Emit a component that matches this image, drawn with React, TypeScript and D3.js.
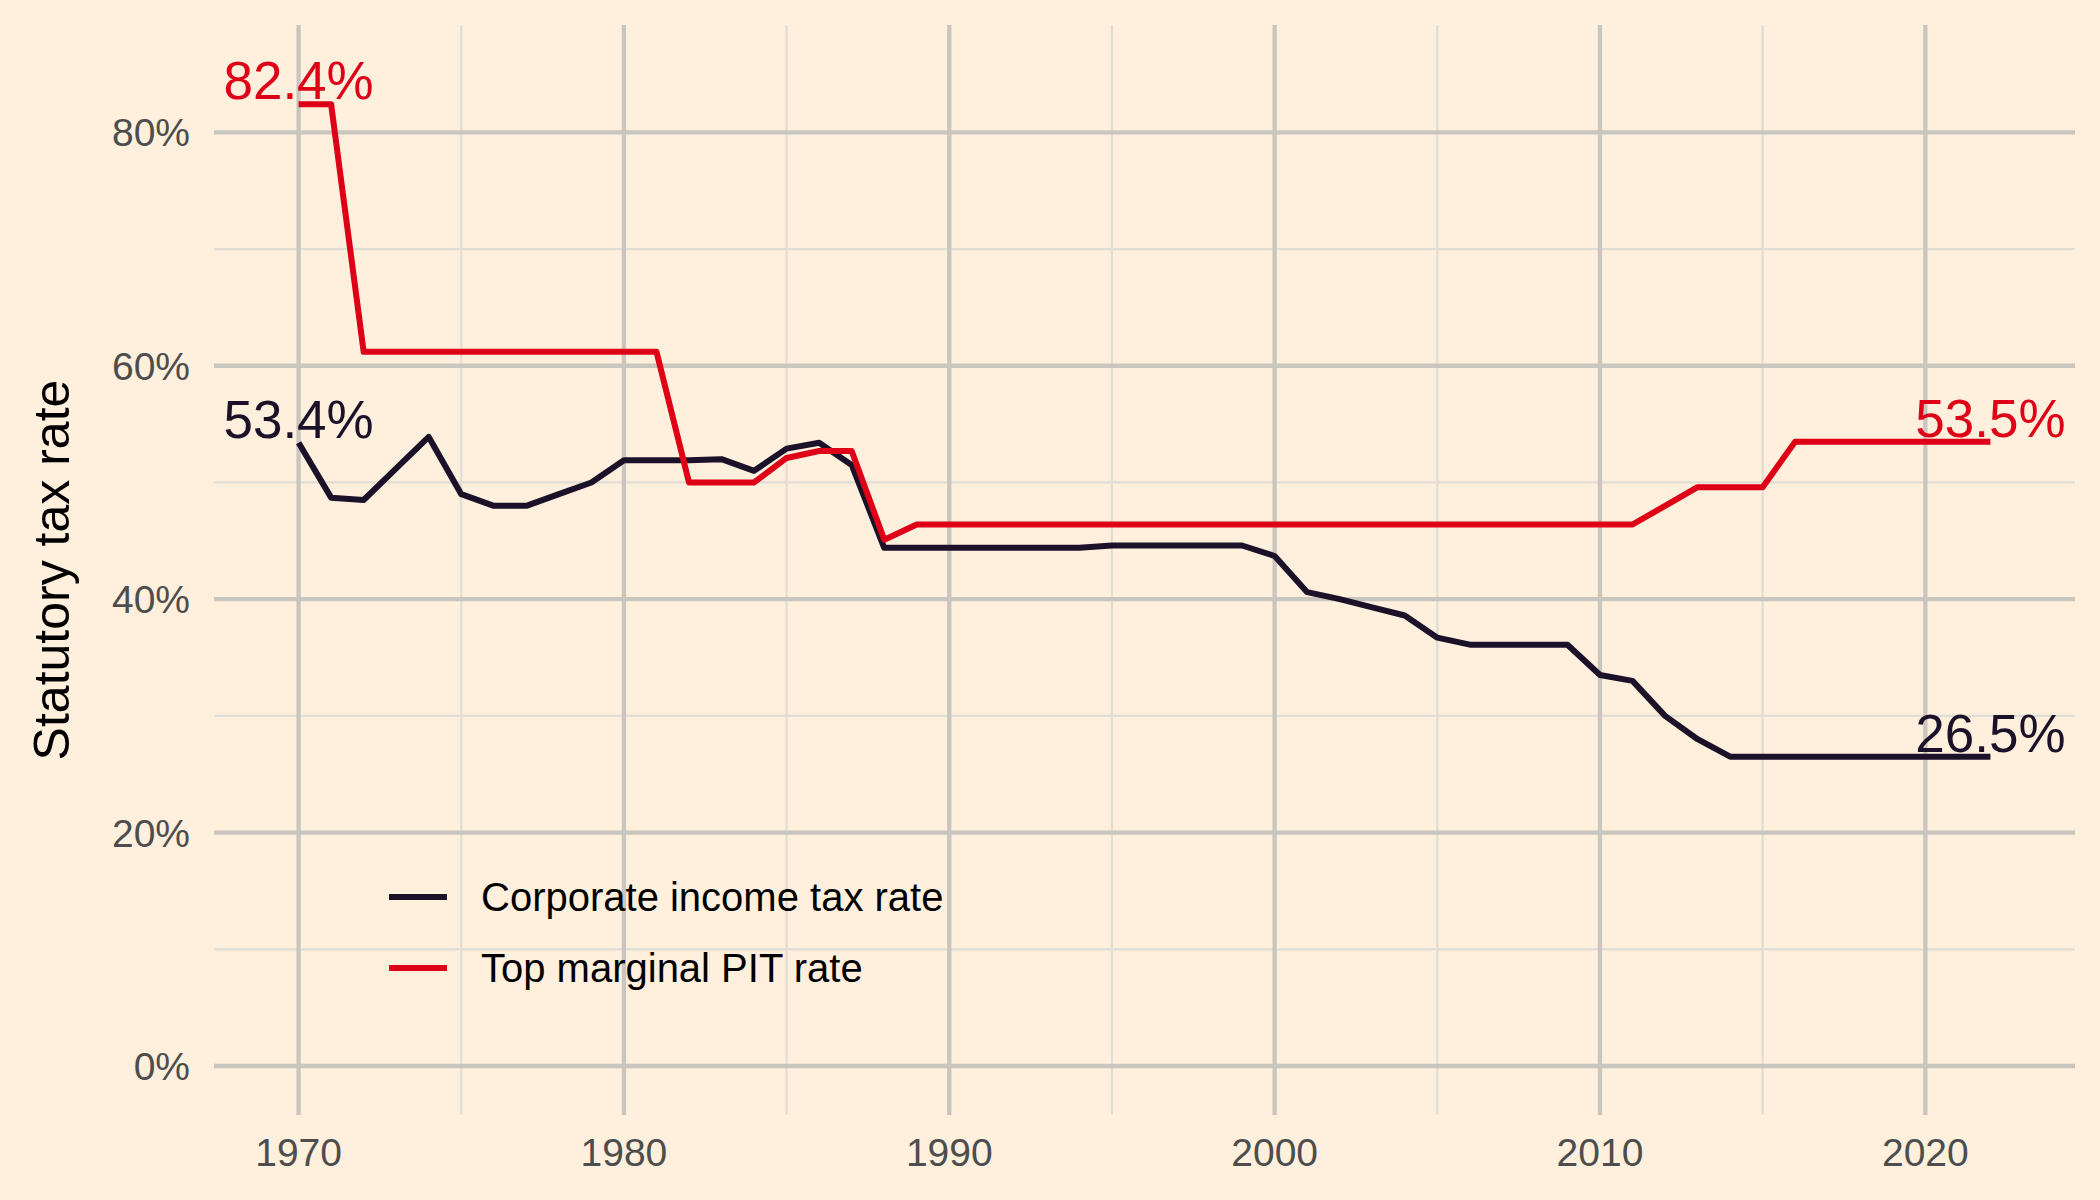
import * as d3 from "d3";
import { useEffect, useRef } from "react";

const years = [
  1970, 1971, 1972, 1973, 1974, 1975, 1976, 1977, 1978, 1979,
  1980, 1981, 1982, 1983, 1984, 1985, 1986, 1987, 1988, 1989,
  1990, 1991, 1992, 1993, 1994, 1995, 1996, 1997, 1998, 1999,
  2000, 2001, 2002, 2003, 2004, 2005, 2006, 2007, 2008, 2009,
  2010, 2011, 2012, 2013, 2014, 2015, 2016, 2017, 2018, 2019,
  2020, 2021, 2022,
];

// corporate income tax rate, %
const citRate = [
  53.4, 48.7, 48.5, 51.2, 53.9, 49.0, 48.0, 48.0, 49.0, 50.0,
  51.9, 51.9, 51.9, 52.0, 51.0, 52.9, 53.4, 51.5, 44.4, 44.4,
  44.4, 44.4, 44.4, 44.4, 44.4, 44.6, 44.6, 44.6, 44.6, 44.6,
  43.7, 40.6, 40.0, 39.3, 38.6, 36.7, 36.1, 36.1, 36.1, 36.1,
  33.5, 33.0, 30.0, 28.0, 26.5, 26.5, 26.5, 26.5, 26.5, 26.5,
  26.5, 26.5, 26.5,
];

// top marginal personal income tax rate, %
const pitRate = [
  82.4, 82.4, 61.2, 61.2, 61.2, 61.2, 61.2, 61.2, 61.2, 61.2,
  61.2, 61.2, 50.0, 50.0, 50.0, 52.1, 52.7, 52.7, 45.1, 46.4,
  46.4, 46.4, 46.4, 46.4, 46.4, 46.4, 46.4, 46.4, 46.4, 46.4,
  46.4, 46.4, 46.4, 46.4, 46.4, 46.4, 46.4, 46.4, 46.4, 46.4,
  46.4, 46.4, 48.0, 49.6, 49.6, 49.6, 53.5, 53.5, 53.5, 53.5,
  53.5, 53.5, 53.5,
];

const seriesNames = ["Corporate income tax rate", "Top marginal PIT rate"];
const seriesColors = ["#1b1229", "#de0016"];

const yTicks = [0, 20, 40, 60, 80];
const yMinor = [10, 30, 50, 70];
const xTicks = [1970, 1980, 1990, 2000, 2010, 2020];
const xMinor = [1975, 1985, 1995, 2005, 2015];

const BG = "#ffefdd";
const GRID_MAJOR = "#c8c6bf";
const GRID_MINOR = "#e0ddd4";
const FONT = "'Liberation Sans', Arial, sans-serif";

function App() {
  const svgRef = useRef<SVGSVGElement>(null);
  const width = 2100;
  const height = 1200;

  useEffect(() => {
    const svg = d3.select(svgRef.current);
    svg.selectAll("*").remove();

    const left = 214, right = 2075, top = 25, bottom = 1115;

    const x = d3.scaleLinear().domain([1967.4, 2024.6]).range([left, right]);
    const y = d3.scaleLinear().domain([-4.2, 89.2]).range([bottom, top]);

    svg.append("rect").attr("width", width).attr("height", height).attr("fill", BG);

    const grid = svg.append("g");
    // minor grid
    grid.selectAll(".ymin").data(yMinor).join("line")
      .attr("x1", left).attr("x2", right)
      .attr("y1", (d) => y(d)).attr("y2", (d) => y(d))
      .attr("stroke", GRID_MINOR).attr("stroke-width", 2.2);
    grid.selectAll(".xmin").data(xMinor).join("line")
      .attr("x1", (d) => x(d)).attr("x2", (d) => x(d))
      .attr("y1", top).attr("y2", bottom)
      .attr("stroke", GRID_MINOR).attr("stroke-width", 2.2);
    // major grid
    grid.selectAll(".ymaj").data(yTicks).join("line")
      .attr("x1", left).attr("x2", right)
      .attr("y1", (d) => y(d)).attr("y2", (d) => y(d))
      .attr("stroke", GRID_MAJOR).attr("stroke-width", 4.3);
    grid.selectAll(".xmaj").data(xTicks).join("line")
      .attr("x1", (d) => x(d)).attr("x2", (d) => x(d))
      .attr("y1", top).attr("y2", bottom)
      .attr("stroke", GRID_MAJOR).attr("stroke-width", 4.3);

    // axis labels
    svg.append("g").selectAll("text").data(yTicks).join("text")
      .attr("x", 190).attr("y", (d) => y(d)).attr("dy", "0.36em")
      .attr("text-anchor", "end")
      .attr("font-family", FONT).attr("font-size", 39).attr("fill", "#4d4d4d")
      .text((d) => d + "%");

    svg.append("g").selectAll("text").data(xTicks).join("text")
      .attr("x", (d) => x(d)).attr("y", 1166)
      .attr("text-anchor", "middle")
      .attr("font-family", FONT).attr("font-size", 39).attr("fill", "#4d4d4d")
      .text((d) => d);

    svg.append("text")
      .attr("transform", "translate(69,570) rotate(-90)")
      .attr("text-anchor", "middle")
      .attr("font-family", FONT).attr("font-size", 50).attr("fill", "#000")
      .text("Statutory tax rate");

    // lines
    const line = d3.line<number>()
      .x((v, i) => x(years[i]))
      .y((v) => y(v));

    const allSeries = [citRate, pitRate];
    allSeries.forEach((vals, k) => {
      svg.append("path")
        .attr("d", line(vals))
        .attr("fill", "none")
        .attr("stroke", seriesColors[k])
        .attr("stroke-width", 6)
        .attr("stroke-linejoin", "round");
    });

    // end labels
    allSeries.forEach((vals, k) => {
      const ends = [0, vals.length - 1];
      svg.append("g").selectAll("text").data(ends).join("text")
        .attr("x", (i) => x(years[i]))
        .attr("y", (i) => y(vals[i]) - 5)
        .attr("text-anchor", "middle")
        .attr("font-family", FONT).attr("font-size", 53)
        .attr("fill", seriesColors[k])
        .text((i) => vals[i].toFixed(1) + "%");
    });

    // legend
    const legend = svg.append("g");
    const rowY = [897, 968];
    seriesNames.forEach((name, k) => {
      legend.append("line")
        .attr("x1", 389).attr("x2", 447)
        .attr("y1", rowY[k]).attr("y2", rowY[k])
        .attr("stroke", seriesColors[k]).attr("stroke-width", 6);
      legend.append("text")
        .attr("x", 481).attr("y", rowY[k]).attr("dy", "0.36em")
        .attr("font-family", FONT).attr("font-size", 40).attr("fill", "#000")
        .text(name);
    });
  }, []);

  return (
    <svg
      ref={svgRef}
      width={width}
      height={height}
      style={{ position: "absolute", left: 0, top: 0, display: "block" }}
    ></svg>
  );
}

export default App;
